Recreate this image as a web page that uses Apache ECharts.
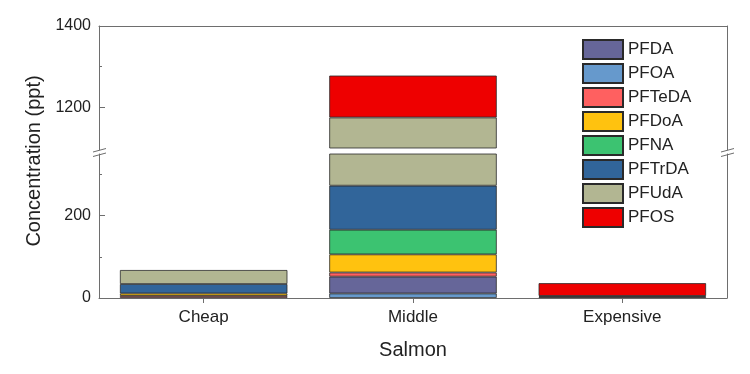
<!DOCTYPE html>
<html><head><meta charset="utf-8">
<script src="https://cdn.jsdelivr.net/npm/echarts@6/dist/echarts.min.js"></script>
<style>html,body{margin:0;padding:0;background:#fff}#c{width:750px;height:374px}</style>
</head><body><div id="c"></div>
<script>
// ---- data ----
const categories = ['Cheap', 'Middle', 'Expensive'];
// stack order, bottom -> top
const PFOA   = [0, 11, 0];
const PFDA   = [0, 41, 0];
const PFTeDA = [5, 10, 3];
const PFDoA  = [6, 44, 0];
const PFNA   = [0, 60, 0];
const PFTrDA = [23, 107, 2];
const PFUdA  = [34, 902, 0];
const PFOS   = [0, 103, 31];
const legendOrder = ['PFDA', 'PFOA', 'PFTeDA', 'PFDoA', 'PFNA', 'PFTrDA', 'PFUdA', 'PFOS'];
const lowerRange = [0, 350];
const upperRange = [1100, 1400];
const lowerMajorTicks = [0, 200];
const lowerMinorTicks = [100, 300];
const upperMajorTicks = [1200, 1400];
const upperMinorTicks = [1300];

const stackSeries = [
  { name: 'PFOA', data: PFOA, color: '#6699CC' },
  { name: 'PFDA', data: PFDA, color: '#666699' },
  { name: 'PFTeDA', data: PFTeDA, color: '#FF6060' },
  { name: 'PFDoA', data: PFDoA, color: '#FFC20F' },
  { name: 'PFNA', data: PFNA, color: '#3CC371' },
  { name: 'PFTrDA', data: PFTrDA, color: '#31659A' },
  { name: 'PFUdA', data: PFUdA, color: '#B2B692' },
  { name: 'PFOS', data: PFOS, color: '#EE0000' }
];

const FONT = "'Liberation Sans', Arial, sans-serif";
const AX = '#6e6e6e';
const TXT = '#222';

const series = [];
stackSeries.forEach(s => {
  const d = s.data.map(v => v === 0 ? '-' : v);
  const base = {
    name: s.name, type: 'bar', barWidth: '80%',
    itemStyle: { color: s.color, borderColor: '#2a2a2a', borderWidth: 0.8 },
    emphasis: { disabled: true }, animation: false
  };
  series.push(Object.assign({}, base, { data: d, stack: 'lo', xAxisIndex: 0, yAxisIndex: 0 }));
  series.push(Object.assign({}, base, { data: d, stack: 'hi', xAxisIndex: 1, yAxisIndex: 3 }));
});

function valueAxes(gridIndex, range, major, minor) {
  return [
    { type: 'value', gridIndex, min: range[0], max: range[1], position: 'left',
      axisLine: { show: true, lineStyle: { color: AX, width: 1 } },
      axisTick: { show: true, inside: true, length: 6, customValues: major, lineStyle: { color: AX } },
      axisLabel: { show: true, customValues: major, fontSize: 16, color: TXT, fontFamily: FONT, margin: 8,
                   formatter: v => String(v) },
      splitLine: { show: false } },
    { type: 'value', gridIndex, min: range[0], max: range[1], position: 'left',
      axisLine: { show: false },
      axisTick: { show: true, inside: true, length: 3, customValues: minor, lineStyle: { color: AX } },
      axisLabel: { show: false }, splitLine: { show: false } },
    { type: 'value', gridIndex, min: range[0], max: range[1], position: 'right',
      axisLine: { show: true, lineStyle: { color: AX, width: 1 } },
      axisTick: { show: false }, axisLabel: { show: false }, splitLine: { show: false } }
  ];
}

const option = {
  animation: false,
  backgroundColor: '#fff',
  grid: [
    { left: 99, right: 23, top: 154, height: 144 },
    { left: 99, right: 23, top: 26, height: 122 }
  ],
  xAxis: [
    { type: 'category', gridIndex: 0, data: categories, position: 'bottom',
      axisLine: { show: true, lineStyle: { color: AX, width: 1 } },
      axisTick: { show: true, alignWithLabel: true, length: 5, lineStyle: { color: AX } },
      axisLabel: { fontSize: 17, color: TXT, fontFamily: FONT, margin: 11 },
      name: 'Salmon', nameLocation: 'middle', nameGap: 42,
      nameTextStyle: { fontSize: 20, color: TXT, fontFamily: FONT } },
    { type: 'category', gridIndex: 1, data: categories, position: 'top',
      axisLine: { show: true, lineStyle: { color: AX, width: 1 } },
      axisTick: { show: false }, axisLabel: { show: false } }
  ],
  yAxis: [].concat(
    valueAxes(0, lowerRange, lowerMajorTicks, lowerMinorTicks),
    valueAxes(1, upperRange, upperMajorTicks, upperMinorTicks)
  ),
  legend: {
    data: legendOrder, orient: 'vertical', left: 582, top: 39,
    itemWidth: 40, itemHeight: 19, itemGap: 3, icon: 'rect',
    textStyle: { fontSize: 17, color: TXT, fontFamily: FONT },
    padding: 0, selectedMode: false
  },
  graphic: [
    { type: 'text', x: 34, y: 161, rotation: Math.PI / 2,
      style: { text: 'Concentration (ppt)', font: '20px ' + FONT, fill: TXT, align: 'center', verticalAlign: 'middle' } },
    // axis line continuation through the break
    { type: 'line', shape: { x1: 99.5, y1: 148, x2: 99.5, y2: 154 }, style: { stroke: AX, lineWidth: 1 } },
    { type: 'line', shape: { x1: 727.5, y1: 148, x2: 727.5, y2: 154 }, style: { stroke: AX, lineWidth: 1 } },
    // break marks
    { type: 'polygon', shape: { points: [[93, 152], [106, 148.5], [106, 153], [93, 156.5]] }, style: { fill: '#fff' } },
    { type: 'line', shape: { x1: 93, y1: 152, x2: 106, y2: 148.5 }, style: { stroke: AX, lineWidth: 1 } },
    { type: 'line', shape: { x1: 93, y1: 156.5, x2: 106, y2: 153 }, style: { stroke: AX, lineWidth: 1 } },
    { type: 'polygon', shape: { points: [[721, 152], [734, 148.5], [734, 153], [721, 156.5]] }, style: { fill: '#fff' } },
    { type: 'line', shape: { x1: 721, y1: 152, x2: 734, y2: 148.5 }, style: { stroke: AX, lineWidth: 1 } },
    { type: 'line', shape: { x1: 721, y1: 156.5, x2: 734, y2: 153 }, style: { stroke: AX, lineWidth: 1 } }
  ],
  series
};

const chart = echarts.init(document.getElementById('c'), null, { renderer: 'canvas' });
chart.setOption(option);
</script>
</body></html>
